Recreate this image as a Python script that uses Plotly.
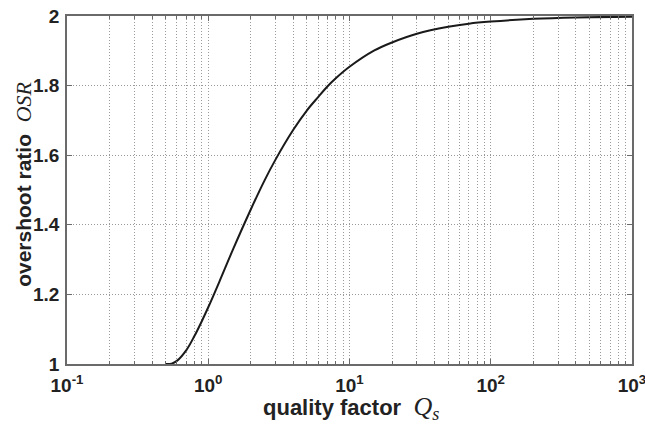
import plotly.graph_objects as go

# Values
q_values = [0.5, 0.55, 0.6, 0.7, 0.8, 0.9, 1.0, 1.2, 1.5, 2.0, 2.5, 3.0, 4.0, 5.0,
            6.0, 7.0, 8.0, 10.0, 15.0, 20.0, 30.0, 50.0, 70.0, 100.0, 200.0, 400.0, 1000.0]
osr_values = [1.0, 1.001, 1.009, 1.04, 1.081, 1.123, 1.163, 1.237, 1.33, 1.444, 1.527,
              1.588, 1.673, 1.729, 1.767, 1.798, 1.821, 1.854, 1.901, 1.924, 1.949,
              1.969, 1.978, 1.984, 1.992, 1.996, 1.998]

x_tick_vals = [0.1, 1, 10, 100, 1000]
x_tick_text = ["10<sup>-1</sup>", "10<sup>0</sup>", "10<sup>1</sup>", "10<sup>2</sup>", "10<sup>3</sup>"]
y_tick_vals = [1, 1.2, 1.4, 1.6, 1.8, 2]
y_tick_text = ["1", "1.2", "1.4", "1.6", "1.8", "2"]

x_title = "<b>quality factor</b>  <span style=\"font-family:'Liberation Serif';font-size:26px\"><i>Q</i><sub><i>s</i></sub></span>"
y_title = "<b>overshoot ratio</b>  <span style=\"font-family:'Liberation Serif';font-size:22px\"><i>OSR</i></span>"

minor_vals = [m * 10 ** e for e in range(-1, 3) for m in range(2, 10)]

fig = go.Figure()
fig.add_trace(go.Scatter(x=q_values, y=osr_values, mode="lines",
                         line=dict(color="#1a1a1a", width=2, shape="spline"),
                         showlegend=False, hoverinfo="skip"))

axis_color = "#6a6a6a"
grid_color = "#9a9a9a"
grid_dash = "1px,2px"
tick_font = dict(family="Liberation Sans", size=19, color="#222222")

fig.update_layout(
    width=645, height=425,
    margin=dict(l=67, r=13, t=16, b=61),
    paper_bgcolor="white", plot_bgcolor="white",
    font=dict(family="Liberation Sans", color="#222222"),
    xaxis=dict(
        type="log", range=[-1, 3], automargin=False,
        tickmode="array", tickvals=x_tick_vals, ticktext=["<b>%s</b>" % t for t in x_tick_text],
        tickfont=tick_font, ticklabelstandoff=3, ticklabeloverflow="allow",
        showline=True, linecolor=axis_color, linewidth=1.5, mirror="ticks",
        ticks="inside", ticklen=5, tickcolor=axis_color,
        showgrid=True, gridcolor=grid_color, griddash=grid_dash, gridwidth=1,
        minor=dict(tickvals=minor_vals, showgrid=True, gridcolor=grid_color, griddash=grid_dash,
                   gridwidth=1, ticks="inside", ticklen=3, tickcolor=axis_color),
        zeroline=False,
    ),
    yaxis=dict(
        range=[1, 2], automargin=False,
        tickmode="array", tickvals=y_tick_vals, ticktext=["<b>%s</b>" % t for t in y_tick_text],
        tickfont=tick_font, ticklabelstandoff=2, ticklabeloverflow="allow",
        showline=True, linecolor=axis_color, linewidth=1.5, mirror="ticks",
        ticks="inside", ticklen=5, tickcolor=axis_color,
        showgrid=True, gridcolor=grid_color, griddash=grid_dash, gridwidth=1,
        zeroline=False,
    ),
    annotations=[
        dict(text=x_title, xref="paper", yref="paper", x=0.502, y=-0.125,
             xanchor="center", yanchor="middle", showarrow=False,
             font=dict(size=22, color="#222222")),
        dict(text=y_title, xref="paper", yref="paper", x=-0.076, y=0.515,
             xanchor="center", yanchor="middle", textangle=-90, showarrow=False,
             font=dict(size=21, color="#222222")),
    ],
)

fig.write_html("out.html")
